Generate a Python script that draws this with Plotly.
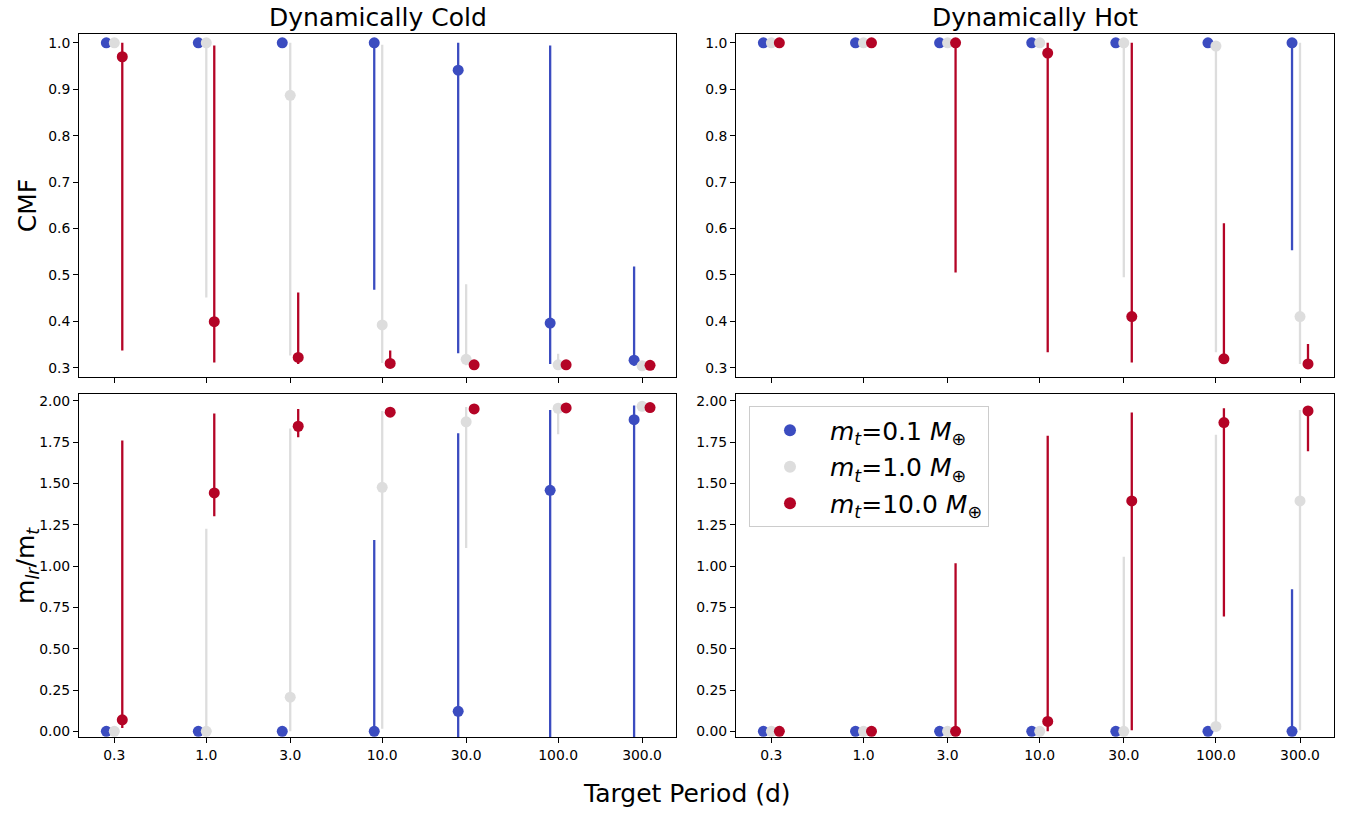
import plotly.graph_objects as go

# ---------------- data ----------------
periods = [0.3, 1.0, 3.0, 10.0, 30.0, 100.0, 300.0]
period_labels = ["0.3", "1.0", "3.0", "10.0", "30.0", "100.0", "300.0"]
series_names = [
    "<i>m</i><sub><i>t</i></sub>=0.1 <i>M</i><sub>⊕</sub>",
    "<i>m</i><sub><i>t</i></sub>=1.0 <i>M</i><sub>⊕</sub>",
    "<i>m</i><sub><i>t</i></sub>=10.0 <i>M</i><sub>⊕</sub>",
]

# Dynamically cold, CMF
cold_cmf_med_01 = [1.0, 1.0, 1.0, 1.0, 0.941, 0.396, 0.316]
cold_cmf_lo_01 = [1.0, 1.0, 1.0, 0.468, 0.331, 0.308, 0.304]
cold_cmf_hi_01 = [1.0, 1.0, 1.0, 1.0, 1.0, 0.994, 0.518]
cold_cmf_med_1 = [1.0, 1.0, 0.887, 0.392, 0.318, 0.306, 0.304]
cold_cmf_lo_1 = [1.0, 0.451, 0.326, 0.310, 0.305, 0.304, 0.303]
cold_cmf_hi_1 = [1.0, 1.0, 1.0, 0.996, 0.480, 0.330, 0.306]
cold_cmf_med_10 = [0.970, 0.399, 0.322, 0.309, 0.306, 0.306, 0.305]
cold_cmf_lo_10 = [0.337, 0.311, 0.308, 0.305, 0.304, 0.304, 0.304]
cold_cmf_hi_10 = [1.0, 0.994, 0.462, 0.337, 0.308, 0.307, 0.306]

# Dynamically hot, CMF
hot_cmf_med_01 = [1.0, 1.0, 1.0, 1.0, 1.0, 1.0, 1.0]
hot_cmf_lo_01 = [1.0, 1.0, 1.0, 1.0, 1.0, 1.0, 0.553]
hot_cmf_hi_01 = [1.0, 1.0, 1.0, 1.0, 1.0, 1.0, 1.0]
hot_cmf_med_1 = [1.0, 1.0, 1.0, 1.0, 1.0, 0.993, 0.410]
hot_cmf_lo_1 = [1.0, 1.0, 1.0, 1.0, 0.495, 0.333, 0.308]
hot_cmf_hi_1 = [1.0, 1.0, 1.0, 1.0, 1.0, 1.0, 1.0]
hot_cmf_med_10 = [1.0, 1.0, 1.0, 0.978, 0.410, 0.319, 0.308]
hot_cmf_lo_10 = [1.0, 1.0, 0.505, 0.333, 0.311, 0.308, 0.305]
hot_cmf_hi_10 = [1.0, 1.0, 1.0, 1.0, 1.0, 0.611, 0.351]

# Dynamically cold, mass ratio
cold_m_med_01 = [0.0, 0.0, 0.0, 0.0, 0.121, 1.459, 1.887]
cold_m_lo_01 = [0.0, 0.0, 0.0, 0.0, -0.2, -0.2, -0.2]
cold_m_hi_01 = [0.0, 0.0, 0.0, 1.158, 1.805, 1.946, 1.972]
cold_m_med_1 = [0.0, 0.0, 0.207, 1.477, 1.874, 1.956, 1.968]
cold_m_lo_1 = [0.0, 0.0, 0.0, 0.016, 1.110, 1.799, 1.950]
cold_m_hi_1 = [0.0, 1.226, 1.833, 1.940, 1.964, 1.970, 1.975]
cold_m_med_10 = [0.070, 1.443, 1.847, 1.932, 1.952, 1.958, 1.960]
cold_m_lo_10 = [0.020, 1.302, 1.781, 1.925, 1.945, 1.955, 1.955]
cold_m_hi_10 = [1.761, 1.924, 1.952, 1.940, 1.960, 1.965, 1.966]

# Dynamically hot, mass ratio
hot_m_med_01 = [0.0, 0.0, 0.0, 0.0, 0.0, 0.0, 0.0]
hot_m_lo_01 = [0.0, 0.0, 0.0, 0.0, 0.0, 0.0, 0.0]
hot_m_hi_01 = [0.0, 0.0, 0.0, 0.0, 0.0, 0.0, 0.860]
hot_m_med_1 = [0.0, 0.0, 0.0, 0.0, 0.0, 0.030, 1.395]
hot_m_lo_1 = [0.0, 0.0, 0.0, 0.0, 0.0, 0.0, 0.006]
hot_m_hi_1 = [0.0, 0.0, 0.0, 0.0, 1.057, 1.795, 1.946]
hot_m_med_10 = [0.0, 0.0, 0.0, 0.060, 1.395, 1.869, 1.940]
hot_m_lo_10 = [0.0, 0.0, 0.0, 0.0, 0.006, 0.695, 1.695]
hot_m_hi_10 = [0.0, 0.0, 1.017, 1.789, 1.930, 1.956, 1.945]

colors = ["#3b4cc0", "#dddddd", "#b40426"]
offset_factors = [1 / 1.11, 1.0, 1.11]

panels = [
    ("x", "y", [(cold_cmf_med_01, cold_cmf_lo_01, cold_cmf_hi_01),
                (cold_cmf_med_1, cold_cmf_lo_1, cold_cmf_hi_1),
                (cold_cmf_med_10, cold_cmf_lo_10, cold_cmf_hi_10)]),
    ("x2", "y2", [(hot_cmf_med_01, hot_cmf_lo_01, hot_cmf_hi_01),
                  (hot_cmf_med_1, hot_cmf_lo_1, hot_cmf_hi_1),
                  (hot_cmf_med_10, hot_cmf_lo_10, hot_cmf_hi_10)]),
    ("x3", "y3", [(cold_m_med_01, cold_m_lo_01, cold_m_hi_01),
                  (cold_m_med_1, cold_m_lo_1, cold_m_hi_1),
                  (cold_m_med_10, cold_m_lo_10, cold_m_hi_10)]),
    ("x4", "y4", [(hot_m_med_01, hot_m_lo_01, hot_m_hi_01),
                  (hot_m_med_1, hot_m_lo_1, hot_m_hi_1),
                  (hot_m_med_10, hot_m_lo_10, hot_m_hi_10)]),
]

fig = go.Figure()
for pi, (xa, ya, series) in enumerate(panels):
    for si, (med, lo, hi) in enumerate(series):
        xs = [p * offset_factors[si] for p in periods]
        plus = [h - m for m, h in zip(med, hi)]
        minus = [m - l for m, l in zip(med, lo)]
        fig.add_trace(go.Scatter(
            x=xs, y=med, xaxis=xa, yaxis=ya, mode="markers",
            name=series_names[si], legendgroup=str(si),
            showlegend=(pi == 3),
            marker=dict(color=colors[si], size=11),
            error_y=dict(type="data", symmetric=False, array=plus,
                         arrayminus=minus, color=colors[si],
                         thickness=2.3, width=0),
            cliponaxis=False,
        ))

W, H = 1349, 813
font = "DejaVu Sans"

def xd(a, b):
    return [a / W, b / W]

def yd(top, bottom):
    return [1 - bottom / H, 1 - top / H]

xrange_log = [-0.7236, 2.670]
common_x = dict(type="log", range=xrange_log, tickvals=periods,
                ticktext=period_labels, ticks="outside", ticklen=5,
                tickwidth=1, tickcolor="black", showline=True,
                linecolor="black", linewidth=1, mirror=True,
                showgrid=False, zeroline=False,
                tickfont=dict(family=font, size=13.9, color="black"))
common_y = dict(ticks="outside", ticklen=5, tickwidth=1, tickcolor="black",
                showline=True, linecolor="black", linewidth=1, mirror=True,
                showgrid=False, zeroline=False,
                tickfont=dict(family=font, size=13.9, color="black"))

cmf_range = [0.2807, 1.0193]
m_range = [-0.036, 2.045]
cmf_ticks = [0.3, 0.4, 0.5, 0.6, 0.7, 0.8, 0.9, 1.0]
m_ticks = [0.0, 0.25, 0.5, 0.75, 1.0, 1.25, 1.5, 1.75, 2.0]

fig.update_layout(
    width=W, height=H,
    margin=dict(l=0, r=0, t=0, b=0),
    paper_bgcolor="white", plot_bgcolor="white",
    font=dict(family=font, color="black"),
    xaxis=dict(common_x, domain=xd(79, 676), anchor="y", showticklabels=False),
    yaxis=dict(common_y, domain=yd(33, 377), anchor="x", range=cmf_range,
               tickvals=cmf_ticks, tickformat=".1f"),
    xaxis2=dict(common_x, domain=xd(736, 1334), anchor="y2", showticklabels=False),
    yaxis2=dict(common_y, domain=yd(33, 377), anchor="x2", range=cmf_range,
                tickvals=cmf_ticks, tickformat=".1f"),
    xaxis3=dict(common_x, domain=xd(79, 676), anchor="y3"),
    yaxis3=dict(common_y, domain=yd(394, 739), anchor="x3", range=m_range,
                tickvals=m_ticks, tickformat=".2f"),
    xaxis4=dict(common_x, domain=xd(736, 1334), anchor="y4"),
    yaxis4=dict(common_y, domain=yd(394, 739), anchor="x4", range=m_range,
                tickvals=m_ticks, tickformat=".2f"),
    legend=dict(x=749 / W, y=1 - 407 / H, xanchor="left", yanchor="top",
                bgcolor="white", bordercolor="#cccccc", borderwidth=1,
                font=dict(family=font, size=25, color="black"),
                itemsizing="constant", itemwidth=70, tracegroupgap=1),
    showlegend=True,
)

annotations = [
    dict(text="Dynamically Cold", x=(79 + 676) / 2 / W, y=1 - 17 / H,
         font=dict(size=25)),
    dict(text="Dynamically Hot", x=(736 + 1334) / 2 / W, y=1 - 17 / H,
         font=dict(size=25)),
    dict(text="Target Period (d)", x=687 / W, y=1 - 795 / H,
         font=dict(size=25)),
    dict(text="CMF", x=27 / W, y=1 - 205 / H, textangle=-90,
         font=dict(size=25)),
    dict(text="m<sub><i>lr</i></sub>/m<sub><i>t</i></sub>", x=27 / W,
         y=1 - 566 / H, textangle=-90, font=dict(size=25)),
]
for a in annotations:
    a.update(xref="paper", yref="paper", showarrow=False,
             xanchor="center", yanchor="middle")
    a["font"].update(family=font, color="black")
fig.update_layout(annotations=annotations)

fig.write_html("out.html")
